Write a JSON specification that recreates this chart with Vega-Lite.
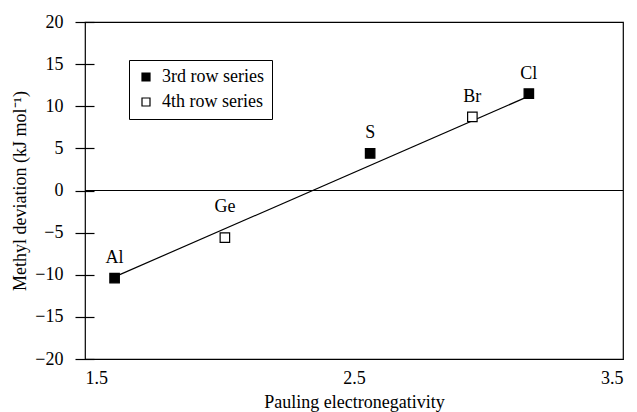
{
  "$schema": "https://vega.github.io/schema/vega-lite/v6.json",
  "width": 538,
  "height": 337,
  "autosize": {"type": "none"},
  "padding": {"left": 85, "top": 22, "right": 14, "bottom": 53},
  "background": "white",
  "config": {
    "font": "Times New Roman, Liberation Serif, serif",
    "view": {"stroke": "black", "strokeWidth": 1.2},
    "axis": {
      "labelFont": "Times New Roman, Liberation Serif, serif",
      "titleFont": "Times New Roman, Liberation Serif, serif",
      "labelFontSize": 18,
      "titleFontSize": 18,
      "labelColor": "black",
      "titleColor": "black",
      "titleFontWeight": "normal",
      "domainColor": "black",
      "domainWidth": 1.2,
      "tickColor": "black",
      "tickWidth": 1.2,
      "grid": false
    },
    "legend": {
      "labelFont": "Times New Roman, Liberation Serif, serif",
      "labelFontSize": 18,
      "labelColor": "black"
    }
  },
  "datasets": {
    "points": [
      {"element": "Al", "en": 1.61, "dev": -10.4, "series": "3rd row series"},
      {"element": "Ge", "en": 2.02, "dev": -5.6, "series": "4th row series"},
      {"element": "S", "en": 2.56, "dev": 4.4, "series": "3rd row series"},
      {"element": "Br", "en": 2.94, "dev": 8.75, "series": "4th row series"},
      {"element": "Cl", "en": 3.15, "dev": 11.5, "series": "3rd row series"}
    ],
    "fit": [
      {"en": 1.61, "dev": -10.25},
      {"en": 3.15, "dev": 11.2}
    ],
    "zero": [{"dev": 0}]
  },
  "layer": [
    {
      "data": {"name": "zero"},
      "mark": {"type": "rule", "color": "black", "strokeWidth": 1.2},
      "encoding": {
        "y": {
          "field": "dev", "type": "quantitative",
          "scale": {"domain": [-20, 20], "nice": false, "zero": false}
        }
      }
    },
    {
      "data": {"name": "fit"},
      "mark": {"type": "line", "color": "black", "strokeWidth": 1.2},
      "encoding": {
        "x": {
          "field": "en", "type": "quantitative",
          "scale": {"domain": [1.5, 3.5], "nice": false, "zero": false},
          "axis": {"values": [1.5, 2.5, 3.5], "format": ".1f", "ticks": false, "labelPadding": 10, "title": "Pauling electronegativity", "titlePadding": 6}
        },
        "y": {
          "field": "dev", "type": "quantitative",
          "scale": {"domain": [-20, 20], "nice": false, "zero": false},
          "axis": {"orient": "left", "offset": -9, "domain": false, "values": [-20, -15, -10, -5, 0, 5, 10, 15, 20], "tickSize": 19, "labelPadding": 12, "title": "Methyl deviation (kJ mol⁻¹)", "titlePadding": 5}
        }
      }
    },
    {
      "data": {"name": "points"},
      "mark": {"type": "point", "shape": "square", "filled": true, "size": 90, "stroke": "black", "strokeWidth": 1.2, "opacity": 1},
      "encoding": {
        "x": {"field": "en", "type": "quantitative"},
        "y": {"field": "dev", "type": "quantitative"},
        "fill": {
          "field": "series", "type": "nominal",
          "scale": {"domain": ["3rd row series", "4th row series"], "range": ["black", "white"]},
          "legend": {
            "title": null,
            "orient": "none",
            "legendX": 44,
            "legendY": 38,
            "symbolType": "square",
            "symbolSize": 64,
            "symbolStrokeColor": "black",
            "symbolStrokeWidth": 1.2,
            "symbolOpacity": 1,
            "labelOffset": 7,
            "rowPadding": 7,
            "padding": 8,
            "strokeColor": "black",
            "fillColor": "white"
          }
        }
      }
    },
    {
      "data": {"name": "points"},
      "transform": [{"filter": "datum.element !== 'Ge'"}],
      "mark": {"type": "text", "dy": -15, "baseline": "alphabetic", "fontSize": 18, "color": "black"},
      "encoding": {
        "x": {"field": "en", "type": "quantitative"},
        "y": {"field": "dev", "type": "quantitative"},
        "text": {"field": "element"}
      }
    },
    {
      "data": {"name": "points"},
      "transform": [{"filter": "datum.element === 'Ge'"}],
      "mark": {"type": "text", "dy": -26, "baseline": "alphabetic", "fontSize": 18, "color": "black"},
      "encoding": {
        "x": {"field": "en", "type": "quantitative"},
        "y": {"field": "dev", "type": "quantitative"},
        "text": {"field": "element"}
      }
    }
  ]
}
